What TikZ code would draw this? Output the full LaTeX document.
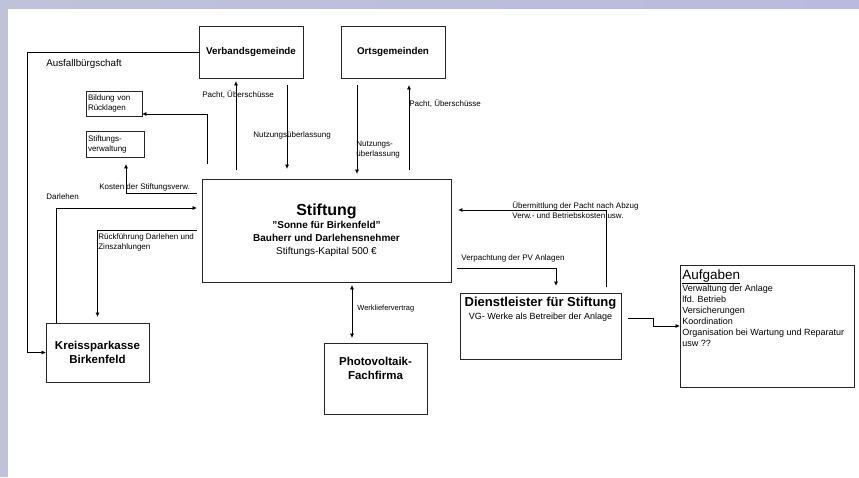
\documentclass[tikz,border=0pt]{standalone}
\usepackage{fontspec}
\setmainfont{Liberation Sans}
\usetikzlibrary{arrows.meta}

\definecolor{panel}{RGB}{192,194,218}
\definecolor{panellight}{RGB}{232,233,240}
\definecolor{panelblue}{RGB}{186,186,222}

\begin{document}
\begin{tikzpicture}[x=1pt,y=-1pt,
  >={Triangle[length=4pt,width=3.5pt]},
  line width=.7pt,
  box/.style={draw=black!85,line width=.8pt,inner sep=2pt,align=center},
  lbl/.style={font=\fontsize{8}{10}\selectfont,inner sep=0pt,align=left},
  boxtitle/.style={font=\fontsize{9.8}{12}\selectfont\bfseries},
  bigtitle/.style={font=\fontsize{11.5}{14}\selectfont\bfseries,inner sep=0pt,align=center}]
  % background
  \fill[panel] (0,0) rectangle (859,477);
  \shade[left color=panel,middle color=panellight,right color=panelblue] (0,0) rectangle (859,9);
  \fill[white] (8,9) rectangle (859,477);
  \useasboundingbox (0,0) rectangle (859,477);

  % boxes
  \node[box,boxtitle,minimum width=104,minimum height=52] (verband) at (251,52) {Verbandsgemeinde};
  \node[box,boxtitle,minimum width=104,minimum height=52] (orts) at (393,52) {Ortsgemeinden};
  \node[box,font=\fontsize{8}{10}\selectfont,text width=52,align=left,minimum height=25] (ruecklagen) at (114,103.5) {Bildung von\\Rücklagen};
  \node[box,font=\fontsize{8}{10}\selectfont,text width=54,align=left,minimum height=26] (stverw) at (115,144) {Stiftungs-\\verwaltung};
  \node[box,minimum width=249,minimum height=103,font=\fontsize{10}{13}\selectfont] (stiftung) at (326.5,230.5)
    {{\fontsize{16}{16}\selectfont\bfseries Stiftung}\\\textbf{"Sonne für Birkenfeld"}\\\textbf{Bauherr und Darlehensnehmer}\\Stiftungs-Kapital 500 €};
  \node[box,minimum width=103,minimum height=59,font=\fontsize{11.5}{14}\selectfont\bfseries] (kreis) at (97.5,352.5) {Kreissparkasse\\Birkenfeld};
  \node[box,minimum width=103,minimum height=71] (pv) at (375.5,378.5) {};
  \node[bigtitle] (pvtext) at (375.5,368.5) {Photovoltaik-\\Fachfirma};
  \node[box,minimum width=161,minimum height=66] (dienst) at (540.5,326) {};
  \node[inner sep=0pt,align=center,font=\fontsize{9}{13}\selectfont] (diensttext) at (540.5,309)
    {{\fontsize{13}{13}\selectfont\bfseries Dienstleister für Stiftung}\\VG- Werke als Betreiber der Anlage};
  \node[box,minimum width=174,minimum height=122] (aufg) at (767,326) {};
  \node[inner sep=0pt,anchor=north west,align=left,font=\fontsize{9}{11}\selectfont] (aufgtext) at (682,269)
    {{\fontsize{13.5}{13.5}\selectfont\underline{Aufgaben}}\\Verwaltung der Anlage\\lfd. Betrieb\\Versicherungen\\Koordination\\Organisation bei Wartung und Reparatur\\usw ??};

  % labels
  \node[lbl,anchor=west,font=\fontsize{9.8}{12}\selectfont] (ausfall) at (46,64) {Ausfallbürgschaft};
  \node[lbl,anchor=west] (pacht1) at (202,95) {Pacht, Überschüsse};
  \node[lbl,anchor=west] (nutz1) at (253,135) {Nutzungsüberlassung};
  \node[lbl,anchor=north west] (nutz2) at (356,140.5) {Nutzungs-\\überlassung};
  \node[lbl,anchor=west] (pacht2) at (409,104) {Pacht, Überschüsse};
  \node[lbl,anchor=west] (kosten) at (99,187) {Kosten der Stiftungsverw.};
  \node[lbl,anchor=west] (darlehen) at (46,197) {Darlehen};
  \node[lbl,anchor=north west] (rueck) at (98,233.5) {Rückführung Darlehen und\\Zinszahlungen};
  \node[lbl,anchor=west,font=\fontsize{7.5}{9}\selectfont] (werk) at (357,309) {Werkliefervertrag};
  \node[lbl,anchor=north west] (uebermittl) at (512,201.5) {Übermittlung der Pacht nach Abzug\\Verw.- und Betriebskosten usw.};
  \node[lbl,anchor=west] (verpacht) at (461,258) {Verpachtung der PV Anlagen};

  % connectors
  \draw[->] (verband.west) -- ++(-171,0) |- (kreis.west);
  \draw[->,shorten >=5pt] ([xshift=11pt]kreis.north west) |- ([yshift=22.5pt]stiftung.west);
  \draw[->,shorten <=5pt,shorten >=6pt] (stiftung.west) -| (kreis.north);
  \draw[->,shorten <=5pt,shorten >=7pt] ([yshift=37.5pt]stiftung.west) -| ([xshift=11pt]stverw.south);
  \draw[->,shorten <=15pt] ([xshift=6pt]stiftung.north west) |- ([yshift=-10.5pt]ruecklagen.east);
  \draw[<-,shorten <=3pt,shorten >=9pt] ([xshift=-15pt]verband.south) -- ([xshift=-15pt]verband.south |- stiftung.north);
  \draw[->,shorten <=7pt,shorten >=10pt] ([xshift=36pt]verband.south) -- ([xshift=36pt]verband.south |- stiftung.north);
  \draw[->,shorten <=7pt,shorten >=5pt] ([xshift=-36pt]orts.south) -- ([xshift=-36pt]orts.south |- stiftung.north);
  \draw[<-,shorten <=7pt,shorten >=9pt] ([xshift=16pt]orts.south) -- ([xshift=16pt]orts.south |- stiftung.north);
  \draw[<->,shorten <=3pt,shorten >=5pt] ([xshift=-23.5pt]pv.north |- stiftung.south) -- ([xshift=-23.5pt]pv.north);
  \draw[->,shorten <=6pt,shorten >=7pt] ([xshift=65.5pt]dienst.north) |- ([yshift=20.5pt]stiftung.east);
  \draw[->,shorten <=6pt,shorten >=7pt] ([yshift=-37.5pt]stiftung.east) -| ([xshift=15.5pt]dienst.north);
  \draw[->] ([yshift=8pt,xshift=7pt]dienst.east) -- ([yshift=8pt,xshift=32pt]dienst.east) |- (aufg.west);
\end{tikzpicture}
\end{document}
